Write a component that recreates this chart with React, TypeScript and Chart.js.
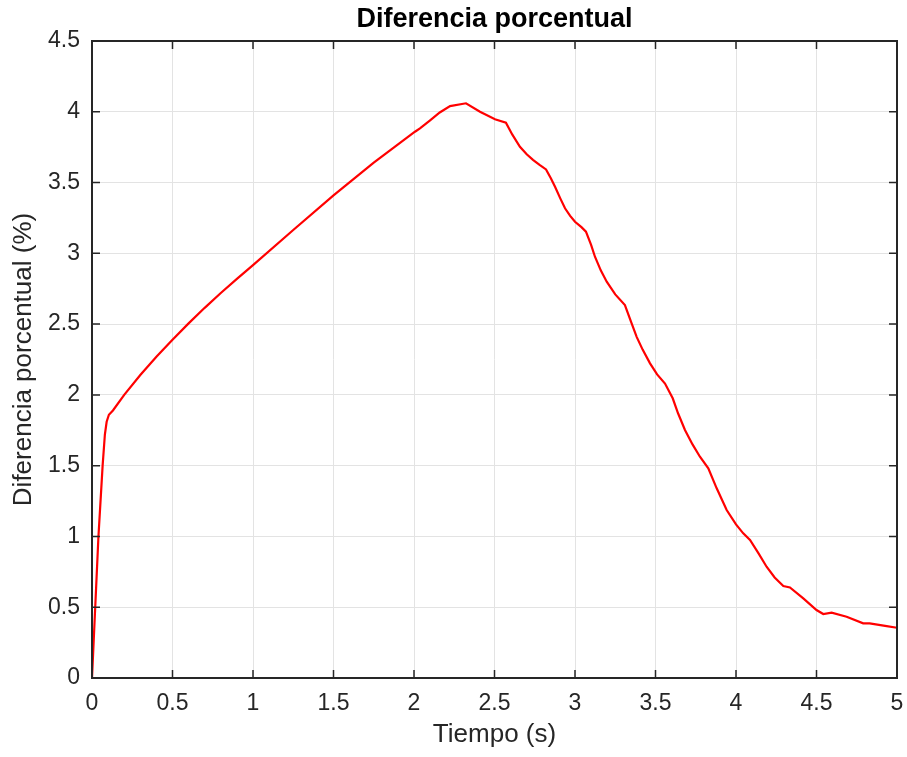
import React, { useEffect, useRef } from "react";
import { Chart, registerables } from "chart.js";

Chart.register(...registerables);

const timeValues: number[] = [
  0, 0.02, 0.04, 0.066, 0.08, 0.091, 0.105, 0.13, 0.2, 0.3, 0.4, 0.5, 0.6, 0.7, 0.8, 0.9, 1.0,
  1.25, 1.5, 1.75, 2.006, 2.037, 2.1, 2.16, 2.224, 2.323, 2.41, 2.503, 2.571, 2.61, 2.658, 2.7,
  2.739, 2.78, 2.82, 2.85, 2.876, 2.91, 2.938, 2.97, 3.0, 3.04, 3.068, 3.1, 3.124, 3.16, 3.197,
  3.25, 3.31, 3.35, 3.383, 3.42, 3.466, 3.51, 3.559, 3.607, 3.64, 3.683, 3.73, 3.776, 3.828, 3.88,
  3.942, 4.0, 4.045, 4.087, 4.14, 4.19, 4.24, 4.294, 4.335, 4.418, 4.5, 4.542, 4.594, 4.687, 4.79,
  4.83, 4.936, 5.0,
];

const diffValues: number[] = [
  0, 0.5, 1.0, 1.5, 1.72, 1.81, 1.86, 1.89, 2.0, 2.14, 2.27, 2.39, 2.505, 2.615, 2.72, 2.82, 2.917,
  3.165, 3.41, 3.64, 3.859, 3.883, 3.94, 3.995, 4.04, 4.06, 4.0, 3.947, 3.923, 3.84, 3.753, 3.7,
  3.66, 3.625, 3.593, 3.53, 3.47, 3.385, 3.318, 3.265, 3.223, 3.185, 3.153, 3.06, 2.976, 2.88, 2.8,
  2.71, 2.635, 2.51, 2.41, 2.32, 2.223, 2.145, 2.08, 1.976, 1.87, 1.752, 1.65, 1.563, 1.481, 1.34,
  1.187, 1.085, 1.022, 0.975, 0.88, 0.786, 0.71, 0.65, 0.64, 0.563, 0.48, 0.452, 0.461, 0.433, 0.386,
  0.386, 0.367, 0.355,
];

const xTicks: number[] = [0, 0.5, 1, 1.5, 2, 2.5, 3, 3.5, 4, 4.5, 5];
const yTicks: number[] = [0, 0.5, 1, 1.5, 2, 2.5, 3, 3.5, 4, 4.5];

const chartTitle = "Diferencia porcentual";
const xTitle = "Tiempo (s)";
const yTitle = "Diferencia porcentual (%)";

const FONT = "'Liberation Sans', Arial, Helvetica, sans-serif";
const TEXT = "#262626";

const boxPlugin = {
  id: "matlabBox",
  afterDraw(chart: any) {
    const { ctx, chartArea, scales } = chart;
    const { left, right, top, bottom } = chartArea;
    ctx.save();
    ctx.strokeStyle = TEXT;
    ctx.lineWidth = 1.5;
    const tl = 8;
    ctx.beginPath();
    xTicks.forEach((v) => {
      const px = scales.x.getPixelForValue(v);
      ctx.moveTo(px, bottom);
      ctx.lineTo(px, bottom - tl);
      ctx.moveTo(px, top);
      ctx.lineTo(px, top + tl);
    });
    yTicks.forEach((v) => {
      const py = scales.y.getPixelForValue(v);
      ctx.moveTo(left, py);
      ctx.lineTo(left + tl, py);
      ctx.moveTo(right, py);
      ctx.lineTo(right - tl, py);
    });
    ctx.stroke();
    ctx.lineWidth = 2;
    ctx.strokeRect(left, top, right - left, bottom - top);
    ctx.restore();
  },
};

export default function App() {
  const ref = useRef<HTMLCanvasElement | null>(null);

  useEffect(() => {
    if (!ref.current) return;
    const data = timeValues.map((t, i) => ({ x: t, y: diffValues[i] }));
    const chart = new Chart(ref.current, {
      type: "line",
      data: {
        datasets: [
          {
            data,
            borderColor: "#ff0000",
            borderWidth: 2.2,
            pointRadius: 0,
            tension: 0,
            fill: false,
          },
        ],
      },
      options: {
        animation: false,
        responsive: false,
        maintainAspectRatio: false,
        layout: { padding: { left: 0, right: 10, top: 0, bottom: 0 } },
        plugins: {
          legend: { display: false },
          tooltip: { enabled: false },
          title: {
            display: true,
            text: chartTitle,
            fullSize: false,
            color: "#000000",
            font: { family: FONT, size: 27, weight: "bold", lineHeight: 1.2 },
            padding: { top: 3, bottom: 5.6 },
          },
        },
        scales: {
          x: {
            type: "linear",
            min: 0,
            max: 5,
            afterBuildTicks: (axis: any) => {
              axis.ticks = xTicks.map((v) => ({ value: v }));
            },
            afterFit: (axis: any) => {
              axis.height = 79;
              axis.paddingLeft = 0;
              axis.paddingRight = 0;
            },
            grid: { color: "#e3e3e3", lineWidth: 1, drawTicks: false },
            border: { display: false },
            ticks: {
              color: TEXT,
              padding: 12,
              maxRotation: 0,
              autoSkip: false,
              font: { family: FONT, size: 23 },
              callback: (v: any) => String(v),
            },
            title: {
              display: true,
              text: xTitle,
              color: TEXT,
              font: { family: FONT, size: 26, lineHeight: 1.2 },
              padding: { top: 0, bottom: 7 },
            },
          },
          y: {
            type: "linear",
            min: 0,
            max: 4.5,
            afterBuildTicks: (axis: any) => {
              axis.ticks = yTicks.map((v) => ({ value: v }));
            },
            afterFit: (axis: any) => {
              axis.width = 92;
              axis.paddingTop = 0;
              axis.paddingBottom = 0;
            },
            grid: { color: "#e3e3e3", lineWidth: 1, drawTicks: false },
            border: { display: false },
            ticks: {
              color: TEXT,
              padding: 12,
              autoSkip: false,
              font: { family: FONT, size: 23 },
              callback: (v: any) => String(v),
            },
            title: {
              display: true,
              text: yTitle,
              color: TEXT,
              font: { family: FONT, size: 26, lineHeight: 1.2 },
              padding: { top: 8, bottom: 0 },
            },
          },
        },
      },
      plugins: [boxPlugin],
    });
    return () => chart.destroy();
  }, []);

  return (
    <div style={{ position: "absolute", left: 0, top: 0, width: 907, height: 757, background: "#ffffff" }}>
      <canvas ref={ref} width={907} height={757} style={{ width: 907, height: 757 }} />
    </div>
  );
}
